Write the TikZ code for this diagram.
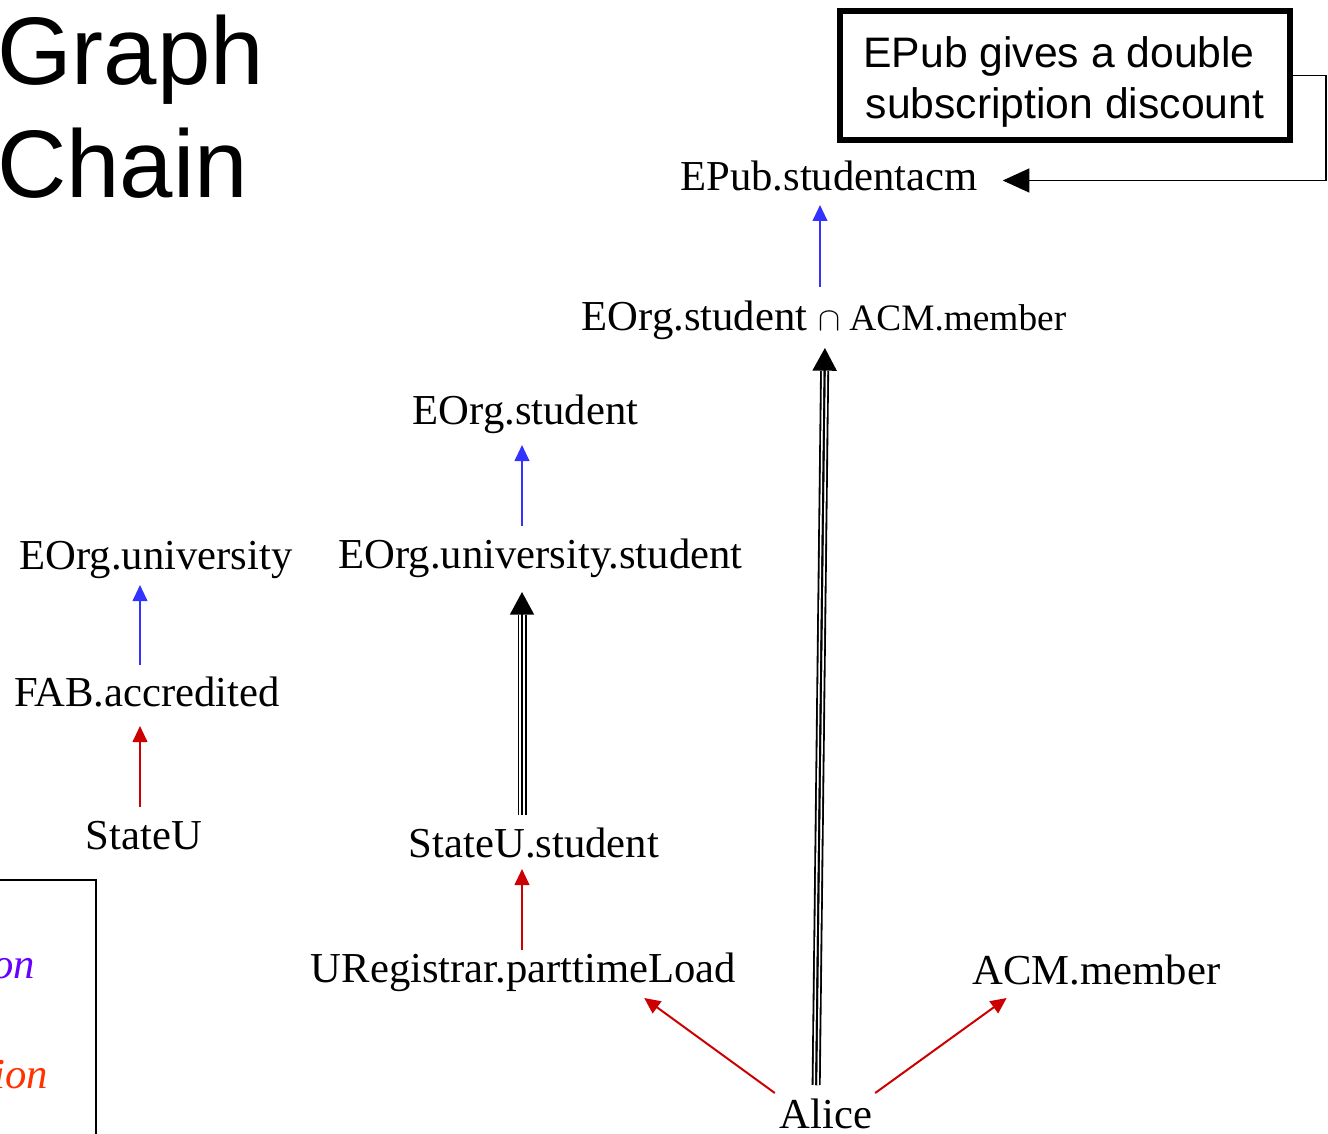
\documentclass[tikz,border=0pt]{standalone}
\usepackage{fontspec}
\setmainfont{Liberation Serif}
\newfontfamily\arialfont{Liberation Sans}
\usetikzlibrary{arrows.meta,calc}
\definecolor{cblue}{RGB}{51,51,255}
\definecolor{cred}{RGB}{204,0,0}
\definecolor{cpurple}{RGB}{102,0,255}
\definecolor{corange}{RGB}{255,51,0}
\newcommand\tripleedge[5]{%
  \draw[tripleline, shorten <=#3, shorten >=#5] (#1) -- (#2);
  \draw[tripletip, shorten <=#3, shorten >=#4] (#1) -- (#2);}
\begin{document}
\begin{tikzpicture}[x=0.75pt,y=-0.75pt,
  lbl/.style={inner sep=0pt, outer sep=0pt, anchor=base,
    font=\fontsize{32}{38}\selectfont, text height=22.5pt, text depth=6.75pt},
  title/.style={inner sep=0pt, anchor=base west, font=\arialfont\fontsize{72}{82}\selectfont},
  legtext/.style={inner sep=0pt, anchor=base east, font=\itshape\fontsize{32}{38}\selectfont},
  bluearr/.style={draw=cblue, line width=1.5pt, -{Triangle[length=12pt,width=11pt]}},
  redarr/.style={draw=cred, line width=1.5pt, -{Triangle[length=12pt,width=11pt]}},
  tripleline/.style={draw=black, line width=6.75pt,
    postaction={draw=white, line width=4pt},
    postaction={draw=black, line width=1.4pt}},
  tripletip/.style={draw=black, line width=1.4pt, -{Triangle[length=17pt,width=18pt]}},
  notebox/.style={draw=black, line width=4.5pt, inner sep=0pt,
    minimum width=337.5pt, minimum height=96.75pt},
  notetext/.style={inner sep=0pt, align=center, font=\arialfont\fontsize{32}{38.25}\selectfont},
  noteconn/.style={draw=black, line width=1.1pt, -{Triangle[length=20pt,width=18pt]}},
  legendline/.style={draw=black, line width=1.5pt}
]
\useasboundingbox (0,0) rectangle (1328,1134);

% title
\node[title] (t1) at (-3,85) {Graph};
\node[title] (t2) at (-3,198) {Chain};

% note
\node[notebox] (note) at (1065,75.5) {};
\node[notetext] (notetxt) at (1065,81.5) {EPub gives a double\rule{0.278em}{0pt}\\subscription discount};

% role nodes
\node[lbl] (epub) at (829,191) {EPub.studentacm};
\node[lbl] (inter) at (824,330) {EOrg.student {\fontsize{28}{34}\selectfont $\cap$ ACM.member}};
\node[lbl] (eorgs) at (525.5,424) {EOrg.student};
\node[lbl] (eorgu) at (156,569) {EOrg.university};
\node[lbl] (eorgus) at (540.5,568) {EOrg.university.student};
\node[lbl] (fab) at (147,706) {FAB.accredited};
\node[lbl] (stateu) at (144,849) {StateU};
\node[lbl] (stateus) at (534,857) {StateU.student};
\node[lbl] (ureg) at (523.5,982) {URegistrar.parttimeLoad};
\node[lbl] (acm) at (1096.5,984) {ACM.member};
\node[lbl] (alice) at (826,1128) {Alice};

% legend fragment
\draw[legendline] (0,880) -- (96,880) -- (96,1140);
\node[legtext, text=cpurple] (leg1) at (35,978) {on};
\node[legtext, text=corange] (leg2) at (48,1088) {ion};

% connectors
\draw[noteconn, shorten >=18.75pt] (note.east) -- (1326,0 |- note.east) |- (epub.east);

\draw[bluearr, shorten <=9.75pt, shorten >=3.75pt] (820,0 |- inter.north) -- (820,0 |- epub.south);
\tripleedge{816,0 |- alice.north}{825,0 |- inter.south}{9.75pt}{6.75pt}{24pt}

\draw[bluearr, shorten <=9pt, shorten >=9pt] (522,0 |- eorgus.north) -- (522,0 |- eorgs.south);
\tripleedge{522,0 |- stateus.north}{522,0 |- eorgus.south}{9pt}{11.25pt}{28.5pt}

\draw[bluearr, shorten <=8.25pt, shorten >=5.25pt] (140,0 |- fab.north) -- (140,0 |- eorgu.south);
\draw[redarr, shorten <=9pt, shorten >=8.25pt] (140,0 |- stateu.north) -- (140,0 |- fab.south);
\draw[redarr, shorten <=1.5pt, shorten >=2.25pt] (522,0 |- ureg.north) -- (522,0 |- stateus.south);

\draw[redarr] ([shift={(-5,-5)}]alice.north west) -- ([shift={(-92,7)}]ureg.south east);
\draw[redarr] ([shift={(3,-5)}]alice.north east) -- ([shift={(34,5)}]acm.south west);
\end{tikzpicture}
\end{document}
